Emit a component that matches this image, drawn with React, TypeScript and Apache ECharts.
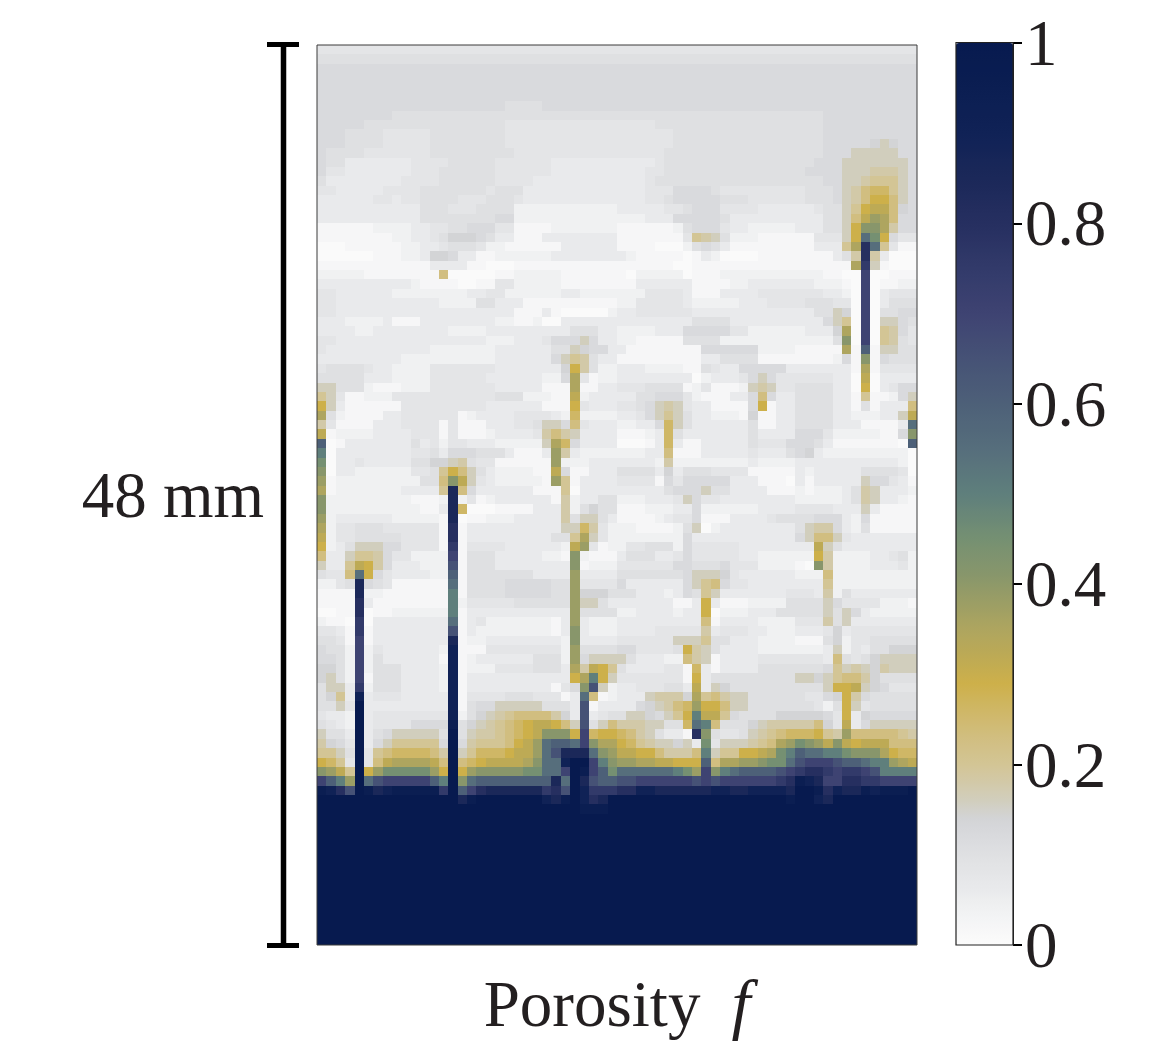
import React, { useEffect, useRef } from "react";
import * as echarts from "echarts";

// Each character of a row is one cell (groups of 8 cells).
const levelChars = "0123456789abcdefghijklmnopqrst";
const levelValues = [0.005,0.02,0.04,0.06,0.08,0.10,0.12,0.14,0.16,0.18,0.20,0.23,0.26,0.29,0.32,0.35,0.38,0.41,0.45,0.50,0.55,0.60,0.65,0.70,0.75,0.80,0.85,0.90,0.95,1];
const ROW_COUNT = 96;
const COL_COUNT = 64;
const SOLID_ROW = "tttttttt tttttttt tttttttt tttttttt tttttttt tttttttt tttttttt tttttttt";

const upperRows = [
"44444444 44444444 44444444 44444444 44444444 44444444 44444444 44444444",
"55555555 55555555 55555555 55555555 55555555 55555555 55555555 55555555",
"66666666 66666666 66666666 66666666 66666666 66666666 66666666 66666666",
"66666666 66666666 66666666 66666666 66666666 66666666 66666666 66666666",
"66666666 66666666 66666666 66666666 66666666 66666666 66666666 66666666",
"66666666 66666666 66666666 66666666 66666666 66666666 66666666 66666666",
"66666666 66666666 66665555 66666666 66666666 66666666 66666666 66666666",
"66666666 55555555 55555555 55555555 55555555 55555555 55555566 66666666",
"66666555 55555555 55554444 44444444 44445555 55555555 55555566 66666666",
"66655554 44445555 55554444 44444444 44444455 55555555 55555566 66666666",
"66655554 44445555 55554444 44444444 44444455 55555555 55555566 66678766",
"65555444 44445555 55555444 44444444 44444555 55555555 55555566 68888866",
"65533333 33444455 55544444 43333333 33334555 55555555 55555666 88888886",
"64433333 33444555 55544444 43333333 33344555 55555555 55556666 88899986",
"53333333 34444555 55544443 33333333 33345555 55555555 55555566 889aaa86",
"44333334 44455555 55455533 33333333 33344466 66544444 44445556 89bcca86",
"33333344 34455554 44555433 33333333 33344566 66655544 44445556 89bddb86",
"33333333 33355544 45555222 22222222 33333445 66644443 33333455 8adeeb76",
"33333333 33355555 55566222 22222222 22233366 66653333 33333355 8begfb66",
"11111122 22334455 66644111 12222222 11111125 66643322 22233355 8dhhf966",
"11111111 22334577 76533111 33333333 11111114 a9852221 11111444 8dkid644",
"00011111 12233455 54221111 11333333 11110002 56531111 11111333 afpka411",
"00000011 12237763 31122222 23333333 32111110 13200001 11111113 59p93000",
"11111111 11113333 11000111 11111111 11111100 11111111 11111111 1fo81000",
"22222111 11111b00 00011222 22111111 10222220 11122222 22222211 00n00111",
"33333333 33211110 01144222 22111111 11333333 11112233 33333222 10n01122",
"44333333 22222222 33442222 22332222 22244443 11133334 44444433 20n03444",
"44333333 33333222 25533311 11111111 22444443 22222333 44445554 40n03555",
"44333333 33333333 33333111 31000002 33444444 33333333 33333558 70n05566",
"33322223 11133333 33322112 00333333 33333333 55553333 33333368 a0n08865",
"33332233 33333322 22333333 33355533 22223336 66664422 22223337 f0n0a964",
"44333333 33333333 33222333 46668633 22111115 55522222 22222225 h0n0a954",
"43333333 33332222 22233333 35587663 31111111 16666662 22211111 f1l18855",
"33333333 32222222 22233333 368a9533 11111111 13355551 11111112 61h16555",
"45555433 22224444 44433333 337d9522 33322221 15433666 66333333 31f14444",
"55555333 22224444 44333333 226f4122 33333333 02333468 64444443 30e03333",
"88555211 12224444 44433333 111f1133 44455551 24111289 84455553 30d03466",
"a8411222 44444444 44455522 211e2333 33556664 2111336b 63355553 31a11268",
"d8311111 14444444 44333333 111d4333 44568984 3311116d 13355553 3151333b",
"f5211113 34444441 23333444 432c2222 33468a85 33222171 13355553 3222338e",
"94111133 34444141 11333445 886b4333 22336c85 33333351 13355553 3311113k",
"e1222233 33444141 11233334 9b983333 11123c53 33333353 33366642 2222116h",
"l0133333 33534244 33322222 8fc63333 00013c31 13333354 44666531 1111110l",
"j0333333 33445366 65553111 3g932222 22233b11 13333343 33567322 22222220",
"i0334333 33557789 54411111 1g222333 33332922 22222232 22233333 33333320",
"h0332222 22445adb 85322221 1e611333 55553735 55444411 11132333 33555540",
"g1222222 22255bhe 84322222 1ga13333 44441646 66663331 11031333 33866431",
"f1222222 23333aqb 63333331 11a03333 33333566 68553333 11121222 35983332",
"h2222222 221112q2 41233333 31923355 22233348 64433333 33322222 35983321",
"h2222222 222113qc 00011113 33925755 11122233 62222223 33344443 33831111",
"g2333333 222221q0 11222333 33958853 11112344 61113333 45555666 32611111",
"f2445554 444441p1 33333333 3388c942 22111125 80233333 33358996 32511111",
"e2445555 544441p1 33333333 355af842 22222226 33333333 33368bb8 43333333",
"d2358886 644441o1 44443333 332eg412 24455526 44444333 33333e85 33333333",
"b338aa96 442222n1 55533333 221h2111 35553346 44444332 22222d92 22233452",
"833aed96 333222m1 55533333 333h1222 44444466 55564442 22210h92 22233342",
"544bkd64 333322l1 55555553 333g3333 55555556 88874333 333222b2 22222222",
"2245q654 111111k1 55556666 655g4444 63333336 8ab64433 333333a2 22222222",
"1111q221 111111j1 55556666 655g7775 55333236 5a833333 33444392 53333333",
"1111p311 111111j2 44444555 555g8853 33333311 3d311122 22555586 44442221",
"0011p011 222222j1 33333333 333g5555 22333323 3d022233 35555585 86322222",
"2110o033 333333k1 34222222 213g3222 33333333 3b133332 22244495 83333333",
"4431o133 333333m1 32222222 213h3222 33334444 49344433 22233347 34444444",
"5541n133 333333q1 22333333 332h3333 44444488 8a553332 22211157 24455555",
"6552n243 333332r1 11444444 442g5555 6644445d 98533332 22222238 24355777",
"6652n253 333331r1 23333335 552g6888 8533322b 98133334 4444443b 54578888",
"7752n255 533332r1 22244445 553f9eda 53333441 c3133335 5555556a 89879888",
"7852n155 533332r1 33333333 333dfjd8 44444441 d3555555 5558878a bb975555",
"5883o255 533332r1 33333333 3146hm82 33444553 e3875555 5555558d de876444",
"57a3r344 433333r1 44445554 4413kb12 33389997 fab98855 55554467 d9655555",
"5584t333 333333r1 56688888 5553m133 336789bc gddb8855 55555425 d8455555",
"4332t344 444444r2 5789abbb b973m345 588768ad jeea6555 57777764 d3766666",
"5432t344 446666s5 789abcde edb8m58b 9998855c kjb55578 99999b74 e3688888",
"8553t356 888885t5 899abcde hhhdncdd cb985331 ph544589 abcccda9 gbbbbba9",
"9764t368 aaaaa6t6 9aaabdeg kllknhff dca98878 3i48889a bfgihgeh edeeebbb",
"aa85t4ab ccccb9t8 acccdeeg kmqqqkhg eeddb999 bj8aadde fijlkkjj ihhhfdcc",
"dca4t4be ffffebtb cdeeeefh kkrttnjh ggffeedd dlbffggh iikmnnnm llkjjgfe",
"hgeatdgi iiiigdtd ghhhhhii kkntsnli kkkkkkji gnhjklll lmnoppon oonmjjjj",
"nljgtkmn nnnnljth klllllll lqktqmll mmnnnnnn mnmnnnnn nopsrqnn ppoonnnn",
"srpmtsqr sssssotl npqqqqqq opmtrooo pprrqqqq qqrrqqrr rrqttspr qqsrssst",
"tttttttt tttttttq sttttttt rqstrpqt tttttttt tttttttt ttsttrqt tttttttt",
"tttttttt tttttttt tttttttt ttttssst tttttttt tttttttt tttttttt tttttttt",
];
const rows = [...upperRows, ...Array(ROW_COUNT - upperRows.length).fill(SOLID_ROW)] as string[];

const colorStopValues = [0,.02,.04,.06,.08,.10,.12,.14,.16,.18,.20,.23,.26,.29,.32,.35,.38,.41,.45,.50,.55,.60,.65,.70,.75,.80,.85,.90,.95,1];
const colorStopHex = ["#fbfbfb","#f6f6f7","#f0f1f2","#e9eaec","#e4e5e7","#dfe0e2","#d9dadd","#d3d4d6","#d1cebd","#d2c9a8","#d3c595","#d1be80","#cfb766","#cdb04a","#bdaa55","#aea55f","#9b9e65","#88966b","#759072","#5f7f7c","#566e7c","#4d6078","#465276","#3e4372","#323a6a","#262f60","#1b2859","#102256","#0b1e52","#071a4f"];

const FONT = '"Liberation Serif", "Times New Roman", serif';
const INK = "#231f20";

function rampColours(n: number): string[] {
  const out: string[] = [];
  for (let i = 0; i < n; i++) {
    const v = i / (n - 1);
    let k = 0;
    while (k < colorStopValues.length - 2 && v > colorStopValues[k + 1]) k++;
    const t = (v - colorStopValues[k]) / (colorStopValues[k + 1] - colorStopValues[k]);
    out.push(echarts.color.lerp(Math.min(1, Math.max(0, t)), [colorStopHex[k], colorStopHex[k + 1]]) as string);
  }
  return out;
}

export default function App() {
  const ref = useRef<HTMLDivElement>(null);
  useEffect(() => {
    const chart = echarts.init(ref.current!, undefined, { renderer: "svg" });
    const cells: [number, number, number][] = [];
    rows.forEach((row, r) => {
      row.replace(/ /g, "").split("").forEach((ch, c) => {
        cells.push([c, r, levelValues[levelChars.indexOf(ch)]]);
      });
    });
    const xCats = Array.from({ length: COL_COUNT }, (_, i) => String(i));
    const yCats = rows.map((_, i) => String(i));
    chart.setOption({
      animation: false,
      backgroundColor: "#ffffff",
      grid: [
        { left: 317, top: 45, width: 600, height: 900, outerBoundsMode: "none", z: 1 },
        { left: 956, top: 43, width: 57, height: 902, outerBoundsMode: "none", z: 1 },
      ],
      xAxis: [
        {
          type: "category", gridIndex: 0, data: xCats,
          axisLine: { show: false }, axisTick: { show: false }, axisLabel: { show: false }, splitLine: { show: false },
          name: "{a|Porosity}{b|f}",
          nameLocation: "middle",
          nameGap: 26,
          nameTextStyle: {
            rich: {
              a: { fontFamily: FONT, fontSize: 65, lineHeight: 66, color: INK, padding: [0, 31, 0, 0] },
              b: { fontFamily: FONT, fontSize: 68, lineHeight: 66, fontStyle: "italic", color: INK },
            },
          },
        },
        { type: "value", gridIndex: 1, min: 0, max: 1, show: false },
      ],
      yAxis: [
        {
          type: "category", gridIndex: 0, data: yCats, inverse: true,
          axisLine: { show: false }, axisTick: { show: false }, axisLabel: { show: false }, splitLine: { show: false },
          name: "48 mm",
          nameLocation: "middle",
          nameRotate: 0,
          nameGap: 53,
          nameTextStyle: { fontFamily: FONT, fontSize: 65, color: INK },
        },
        {
          type: "value", gridIndex: 1, position: "right", min: 0, max: 1, interval: 0.2,
          axisLine: { show: true, onZero: false, lineStyle: { color: "#222", width: 1 } },
          axisTick: { show: true, length: 9, lineStyle: { color: "#000", width: 2 } },
          axisLabel: { show: true, margin: 12, fontFamily: FONT, fontSize: 65, color: INK, showMinLabel: true, showMaxLabel: true, hideOverlap: false },
          splitLine: { show: false },
          z: 40,
        },
      ],
      visualMap: {
        type: "continuous", seriesIndex: 0, min: 0, max: 1, show: true, dimension: 2,
        calculable: false, realtime: false, hoverLink: false, showLabel: false,
        left: 956, top: 43, itemWidth: 57, itemHeight: 902, padding: 0, text: null, z: 4,
        inRange: { color: rampColours(101) },
      },
      series: [
        {
          type: "custom", coordinateSystem: "cartesian2d", xAxisIndex: 0, yAxisIndex: 0, data: cells,
          encode: { x: 0, y: 1 }, silent: true, progressive: 0,
          renderItem: (_p: unknown, api: any) => {
            const centre = api.coord([api.value(0), api.value(1)]);
            const size = api.size([1, 1]);
            const x0 = Math.round(centre[0] - size[0] / 2);
            const x1 = Math.round(centre[0] + size[0] / 2);
            const y0 = Math.round(centre[1] - size[1] / 2);
            const y1 = Math.round(centre[1] + size[1] / 2);
            return { type: "rect", shape: { x: x0, y: y0, width: x1 - x0, height: y1 - y0 }, style: { fill: api.visual("color") } };
          },
        },
      ],
      graphic: [
        { type: "rect", z: 50, silent: true, shape: { x: 317, y: 45, width: 600, height: 900 }, style: { fill: "none", stroke: "#3a3a3a", lineWidth: 1 } },
        { type: "rect", z: 50, silent: true, shape: { x: 956, y: 42.5, width: 57, height: 902.5 }, style: { fill: "none", stroke: "#222", lineWidth: 1.2 } },
        { type: "line", z: 50, silent: true, shape: { x1: 283.5, y1: 44, x2: 283.5, y2: 945 }, style: { stroke: "#000", lineWidth: 5.5 } },
        { type: "line", z: 50, silent: true, shape: { x1: 267, y1: 44.5, x2: 299, y2: 44.5 }, style: { stroke: "#000", lineWidth: 5 } },
        { type: "line", z: 50, silent: true, shape: { x1: 267, y1: 945.5, x2: 299, y2: 945.5 }, style: { stroke: "#000", lineWidth: 5 } },
      ],
    });
    return () => chart.dispose();
  }, []);
  return <div ref={ref} style={{ position: "absolute", left: 0, top: 0, width: 1152, height: 1042 }} />;
}
